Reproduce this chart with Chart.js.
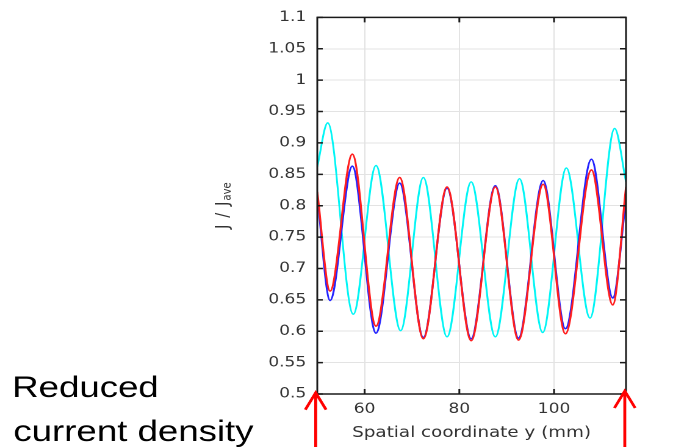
<!DOCTYPE html>
<html>
<head>
<meta charset="utf-8">
<script src="https://cdn.jsdelivr.net/npm/chart.js@4/dist/chart.umd.min.js"></script>
<style>
  html, body { margin: 0; padding: 0; background: #fff; overflow: hidden; }
</style>
</head>
<body>
<!-- the source picture is stretched sideways, so the canvas is drawn narrow and widened by css -->
<canvas id="chart" width="572" height="447" style="width:698px;height:447px;display:block"></canvas>
<script>
'use strict';

// values (peaks, troughs and the two ends of each trace)
let redBlueX = [50, 52.7, 57.4, 62.4, 67.4, 72.4, 77.4, 82.5, 87.6, 92.5, 97.7, 102.4, 107.9, 112.4, 115.2];
let redY = [0.822, 0.664, 0.882, 0.608, 0.845, 0.588, 0.83, 0.585, 0.83, 0.586, 0.834, 0.596, 0.857, 0.642, 0.83];
let blueY = [0.815, 0.649, 0.863, 0.597, 0.836, 0.59, 0.828, 0.588, 0.832, 0.589, 0.84, 0.604, 0.874, 0.653, 0.81];

let cyanX = [50, 52.2, 57.6, 62.4, 67.6, 72.4, 77.4, 82.5, 87.6, 92.7, 97.6, 102.6, 107.6, 112.8, 115.2];
let cyanY = [0.862, 0.932, 0.627, 0.864, 0.601, 0.845, 0.591, 0.838, 0.591, 0.843, 0.598, 0.86, 0.621, 0.923, 0.838];

let xTicks = [60, 80, 100];
let xTickLabels = ['60', '80', '100'];
let yTicks = [0.5, 0.55, 0.6, 0.65, 0.7, 0.75, 0.8, 0.85, 0.9, 0.95, 1, 1.05, 1.1];
let yTickLabels = ['0.5', '0.55', '0.6', '0.65', '0.7', '0.75', '0.8', '0.85', '0.9', '0.95', '1', '1.05', '1.1'];

let canvasElem = document.getElementById('chart');

function toPoints(xs, ys) {
  let pts = [];
  for (let i = 0; i < xs.length; i++) {
    pts.push({ x: xs[i], y: ys[i] });
  }
  return pts;
}

// frame with inward tick marks, titles, side text and the red arrows
let framePlugin = {
  id: 'frame',
  afterDatasetsDraw(chart) {
    let ctx = chart.ctx;
    let a = chart.chartArea;
    let x = chart.scales.x;
    let y = chart.scales.y;
    ctx.save();
    ctx.strokeStyle = '#1a1a1a';
    ctx.lineWidth = 1.5;
    ctx.strokeRect(a.left, a.top, a.right - a.left, a.bottom - a.top);
    ctx.beginPath();
    xTicks.forEach(v => {
      let px = x.getPixelForValue(v);
      ctx.moveTo(px, a.bottom);
      ctx.lineTo(px, a.bottom - 5);
      ctx.moveTo(px, a.top);
      ctx.lineTo(px, a.top + 5);
    });
    yTicks.forEach(v => {
      let py = y.getPixelForValue(v);
      ctx.moveTo(a.left, py);
      ctx.lineTo(a.left + 4.5, py);
      ctx.moveTo(a.right, py);
      ctx.lineTo(a.right - 5, py);
    });
    ctx.stroke();
    ctx.restore();
  },
  afterDraw(chart) {
    let ctx = chart.ctx;
    let a = chart.chartArea;
    ctx.save();

    // x title
    ctx.fillStyle = '#333';
    ctx.font = '15px "DejaVu Sans"';
    ctx.textAlign = 'center';
    ctx.textBaseline = 'alphabetic';
    ctx.fillText('Spatial coordinate y (mm)', (a.left + a.right) / 2, 437);

    // y title, J / J_ave
    ctx.save();
    ctx.translate(187, 229);
    ctx.rotate(-Math.PI / 2);
    ctx.textAlign = 'left';
    ctx.font = '15px "DejaVu Sans"';
    ctx.letterSpacing = '1px';
    ctx.fillText('J / J', 0, 0);
    let w = ctx.measureText('J / J').width;
    ctx.letterSpacing = '0px';
    ctx.font = '10px "DejaVu Sans"';
    ctx.fillText('ave', w, 1.8);
    ctx.restore();

    // side text
    ctx.fillStyle = '#000';
    ctx.textAlign = 'left';
    ctx.font = '30px "Liberation Sans"';
    ctx.fillText('Reduced', 10, 397);
    ctx.fillText('current density', 11, 441);

    // arrows at both ends of the axis
    ctx.strokeStyle = '#ff0000';
    ctx.lineWidth = 2.4;
    [[a.left - 1.3, a.bottom - 1.3], [a.right - 1, a.bottom - 3]].forEach(p => {
      let ax = p[0];
      let tip = p[1];
      ctx.beginPath();
      ctx.moveTo(ax, 447);
      ctx.lineTo(ax, tip + 1);
      ctx.moveTo(ax - 8.5, tip + 17);
      ctx.lineTo(ax, tip);
      ctx.lineTo(ax + 8.5, tip + 17);
      ctx.stroke();
    });
    ctx.restore();
  }
};

function renderChart() {
  let tickFont = { family: '"DejaVu Sans"', size: 14 };
  let dataObject = {
    datasets: [
      {
        label: 'red',
        data: toPoints(redBlueX, redY),
        borderColor: 'rgb(255, 30, 30)',
        borderWidth: 1.6,
        pointRadius: 0,
        cubicInterpolationMode: 'monotone'
      },
      {
        label: 'blue',
        data: toPoints(redBlueX, blueY),
        borderColor: 'rgb(35, 35, 255)',
        borderWidth: 1.6,
        pointRadius: 0,
        cubicInterpolationMode: 'monotone'
      },
      {
        label: 'cyan',
        data: toPoints(cyanX, cyanY),
        borderColor: 'rgb(0, 245, 245)',
        borderWidth: 1.5,
        pointRadius: 0,
        cubicInterpolationMode: 'monotone'
      }
    ]
  };
  let config = {
    type: 'line',
    data: dataObject,
    options: {
      responsive: false,
      devicePixelRatio: 2,
      animation: false,
      layout: { padding: { left: 0, right: 59, top: 14.7, bottom: 0 } },
      plugins: {
        legend: { display: false },
        tooltip: { enabled: false }
      },
      scales: {
        x: {
          type: 'linear',
          min: 50,
          max: 115.2,
          afterBuildTicks: s => { s.ticks = xTicks.map(v => ({ value: v })); },
          afterFit: s => { s.height = 53; },
          grid: { color: '#e3e3e3', lineWidth: 1, drawTicks: false },
          border: { display: false },
          ticks: {
            autoSkip: false,
            maxRotation: 0,
            padding: 7,
            color: '#333',
            font: tickFont,
            callback: (v, i) => xTickLabels[i]
          }
        },
        y: {
          type: 'linear',
          min: 0.5,
          max: 1.1,
          afterBuildTicks: s => { s.ticks = yTicks.map(v => ({ value: v })); },
          afterFit: s => { s.width = 260; },
          grid: { color: '#e3e3e3', lineWidth: 1, drawTicks: false },
          border: { display: false },
          ticks: {
            autoSkip: false,
            padding: 9,
            color: '#333',
            font: tickFont,
            callback: (v, i) => yTickLabels[i]
          }
        }
      }
    },
    plugins: [framePlugin]
  };
  new Chart(canvasElem, config);
}

renderChart();
</script>
</body>
</html>
